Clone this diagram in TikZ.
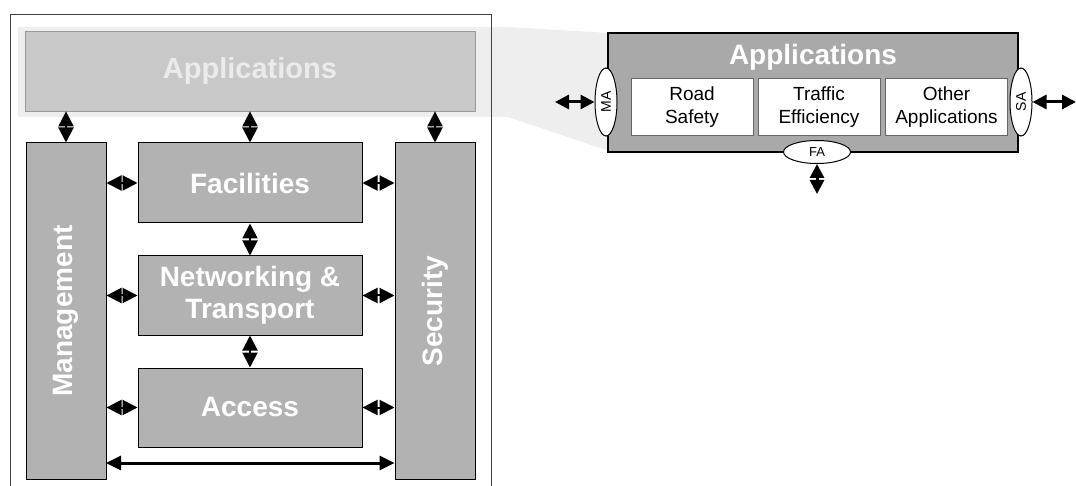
\documentclass[tikz,border=0pt]{standalone}
\usepackage{fontspec}
\setmainfont{Liberation Sans}
\usetikzlibrary{arrows.meta,shapes.geometric}
\definecolor{blockfill}{HTML}{B2B2B2}
\definecolor{appfill}{HTML}{A9A9A9}
\definecolor{fadefill}{HTML}{C8C8C8}
\definecolor{fadetext}{HTML}{EBEBEB}
\definecolor{bandfill}{HTML}{EEEEEE}
\definecolor{framecol}{HTML}{404040}
\tikzset{
  block/.style={draw=black, line width=1pt, fill=blockfill, text=white,
    font=\fontsize{28}{32}\selectfont\bfseries, align=center, inner sep=0pt},
  blocklabel/.style={text=white, font=\fontsize{28}{32}\selectfont\bfseries, inner sep=0pt},
  subbox/.style={draw=black!60, line width=1pt, fill=white, text=black,
    font=\fontsize{19}{23}\selectfont, align=center, inner sep=0pt,
    minimum width=122pt, minimum height=57pt},
  sap/.style={ellipse, draw=black, line width=1pt, fill=white, inner sep=0pt},
  dbl/.style={line width=2pt, {Triangle[width=15pt,length=15pt]}-{Triangle[width=15pt,length=15pt]}},
  longdbl/.style={line width=3pt, {Triangle[width=14pt,length=15pt]}-{Triangle[width=14pt,length=15pt]}},
  sadbl/.style={line width=3pt, {Triangle[width=14pt,length=14pt]}-{Triangle[width=14pt,length=14pt]}}
}
\begin{document}
\begin{tikzpicture}[x=1pt,y=-1pt]
\useasboundingbox (0,0) rectangle (1076,486);
% zoom band
\fill[bandfill] (18,27) -- (508,27) -- (609,33) -- (609,151) -- (508,117) -- (18,117) -- cycle;
% frame
\draw[framecol, line width=1pt] (10,486) -- (10,15) -- (491,15) -- (491,486);
% faded applications
\node[draw=gray!80, line width=0.8pt, fill=fadefill, text=fadetext,
  font=\fontsize{29}{32}\selectfont\bfseries, minimum width=450pt, minimum height=80pt, inner sep=0pt]
  (appf) at (250,71) {Applications};
% blocks
\node[block, minimum width=80pt, minimum height=336pt] (mgmt) at (66,311) {};
\node[blocklabel, rotate=90] (mgmtlabel) at (mgmt.center) {Management};
\node[block, minimum width=80pt, minimum height=336pt] (sec) at (435,311) {};
\node[blocklabel, rotate=90] (seclabel) at (sec.center) {Security};
\node[block, minimum width=224pt, minimum height=80pt] (fac) at (250,183) {Facilities};
\node[block, minimum width=224pt, minimum height=79pt] (net) at (250,295.5) {Networking \&\\Transport};
\node[block, minimum width=224pt, minimum height=79pt] (acc) at (250,407.5) {Access};
% arrows
\draw[dbl] (mgmt.north) -- (mgmt.north |- appf.south);
\draw[dbl] (fac.north) -- (appf.south);
\draw[dbl] (sec.north) -- (sec.north |- appf.south);
\draw[dbl] (fac.south) -- (net.north);
\draw[dbl] (net.south) -- (acc.north);
\draw[dbl] (fac.west) -- (fac.west -| mgmt.east);
\draw[dbl] (net.west) -- (net.west -| mgmt.east);
\draw[dbl] (acc.west) -- (acc.west -| mgmt.east);
\draw[dbl] (fac.east) -- (fac.east -| sec.west);
\draw[dbl] (net.east) -- (net.east -| sec.west);
\draw[dbl] (acc.east) -- (acc.east -| sec.west);
\coordinate (bl) at (106,463);
\draw[longdbl] (bl) -- (bl -| sec.west);
% right applications box
\node[draw=black, line width=2pt, fill=appfill, minimum width=410pt, minimum height=119pt, inner sep=0pt]
  (app) at (813,92.5) {};
\node[text=white, font=\fontsize{28}{32}\selectfont\bfseries, inner sep=0pt] (apptitle) at (813,57) {Applications};
\node[subbox] (road) at (692,107.5) {Road\\Safety};
\node[subbox] (traf) at (819,107.5) {Traffic\\Efficiency};
\node[subbox] (oth) at (946.5,107.5) {Other\\Applications};
\node[sap, rotate=90, minimum width=68pt, minimum height=22pt, font=\fontsize{14}{16}\selectfont] (ma) at (606,102) {MA};
\node[sap, rotate=90, minimum width=68pt, minimum height=22pt, font=\fontsize{14}{16}\selectfont] (sa) at (1021,102) {SA};
\node[sap, minimum width=67pt, minimum height=23pt, font=\fontsize{13}{15}\selectfont] (fa) at (817,152) {FA};
\coordinate (maend) at (555,102);
\coordinate (saend) at (1076,102);
\coordinate (faend) at (817,194);
\draw[sadbl] (ma.north) -- (maend);
\draw[sadbl] (sa.south) -- (saend);
\draw[sadbl] (fa.south) -- (faend);
\end{tikzpicture}
\end{document}
